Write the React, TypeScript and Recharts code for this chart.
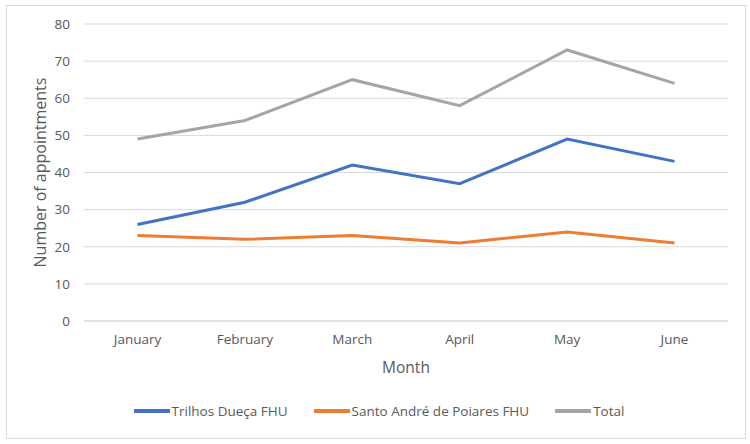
import { LineChart, Line, XAxis, YAxis, CartesianGrid, Legend, Label } from "recharts";

const months = ["January", "February", "March", "April", "May", "June"];
const trilhos = [26, 32, 42, 37, 49, 43];
const santoAndre = [23, 22, 23, 21, 24, 21];
const total = [49, 54, 65, 58, 73, 64];
const yTicks = [0, 10, 20, 30, 40, 50, 60, 70, 80];

const seriesInfo = [
  { key: "trilhos", name: "Trilhos Dueça FHU", color: "#4472C4" },
  { key: "santo", name: "Santo André de Poiares FHU", color: "#ED7D31" },
  { key: "total", name: "Total", color: "#A5A5A5" },
];

const data = months.map((m, i) => ({
  month: m,
  trilhos: trilhos[i],
  santo: santoAndre[i],
  total: total[i],
}));

const FONT = "'Open Sans', sans-serif";
const TEXT = "#595959";

const renderLegend = () => (
  <div style={{ display: "flex", justifyContent: "center", gap: 26, fontFamily: FONT, fontSize: 13.5, color: TEXT, paddingLeft: 6 }}>
    {seriesInfo.map((s) => (
      <div key={s.key} style={{ display: "flex", alignItems: "center" }}>
        <svg width={36} height={10} style={{ marginRight: 2 }}>
          <line x1={1} y1={5} x2={35} y2={5} stroke={s.color} strokeWidth={4} strokeLinecap="round" />
        </svg>
        <span>{s.name}</span>
      </div>
    ))}
  </div>
);

export default function App() {
  return (
    <div style={{ position: "absolute", left: 0, top: 0, width: 750, height: 444, background: "#fff" }}>
      <div style={{ position: "absolute", left: 6, top: 5, width: 738, height: 432, border: "1px solid #d9d9d9" }} />
      <div style={{ position: "absolute", left: 0, top: 0 }}>
        <LineChart width={750} height={444} data={data} margin={{ top: 24, right: 22, bottom: 18, left: 24 }}>
          <CartesianGrid vertical={false} stroke="#d9d9d9" strokeWidth={1} />
          <XAxis
            dataKey="month"
            height={81}
            padding={{ left: 53.5, right: 53.5 }}
            axisLine={{ stroke: "#d9d9d9" }}
            tickLine={false}
            tickSize={0}
            tickMargin={13}
            tick={{ fill: TEXT, fontSize: 13.5, fontFamily: FONT }}
          >
            <Label value="Month" position="insideBottom" offset={29} style={{ fill: TEXT, fontSize: 15.5, fontFamily: FONT }} />
          </XAxis>
          <YAxis
            width={60}
            domain={[0, 80]}
            ticks={yTicks}
            axisLine={false}
            tickLine={false}
            tickSize={0}
            tickMargin={14}
            tick={{ fill: TEXT, fontSize: 13.5, fontFamily: FONT }}
          >
            <Label
              value="Number of appointments"
              angle={-90}
              position="insideLeft"
              offset={16}
              style={{ textAnchor: "middle", fill: TEXT, fontSize: 16, fontFamily: FONT }}
            />
          </YAxis>
          {seriesInfo.map((s) => (
            <Line
              key={s.key}
              type="linear"
              dataKey={s.key}
              name={s.name}
              stroke={s.color}
              strokeWidth={3}
              dot={false}
              activeDot={false}
              isAnimationActive={false}
            />
          ))}
          <Legend verticalAlign="bottom" height={24} content={renderLegend} />
        </LineChart>
      </div>
    </div>
  );
}
